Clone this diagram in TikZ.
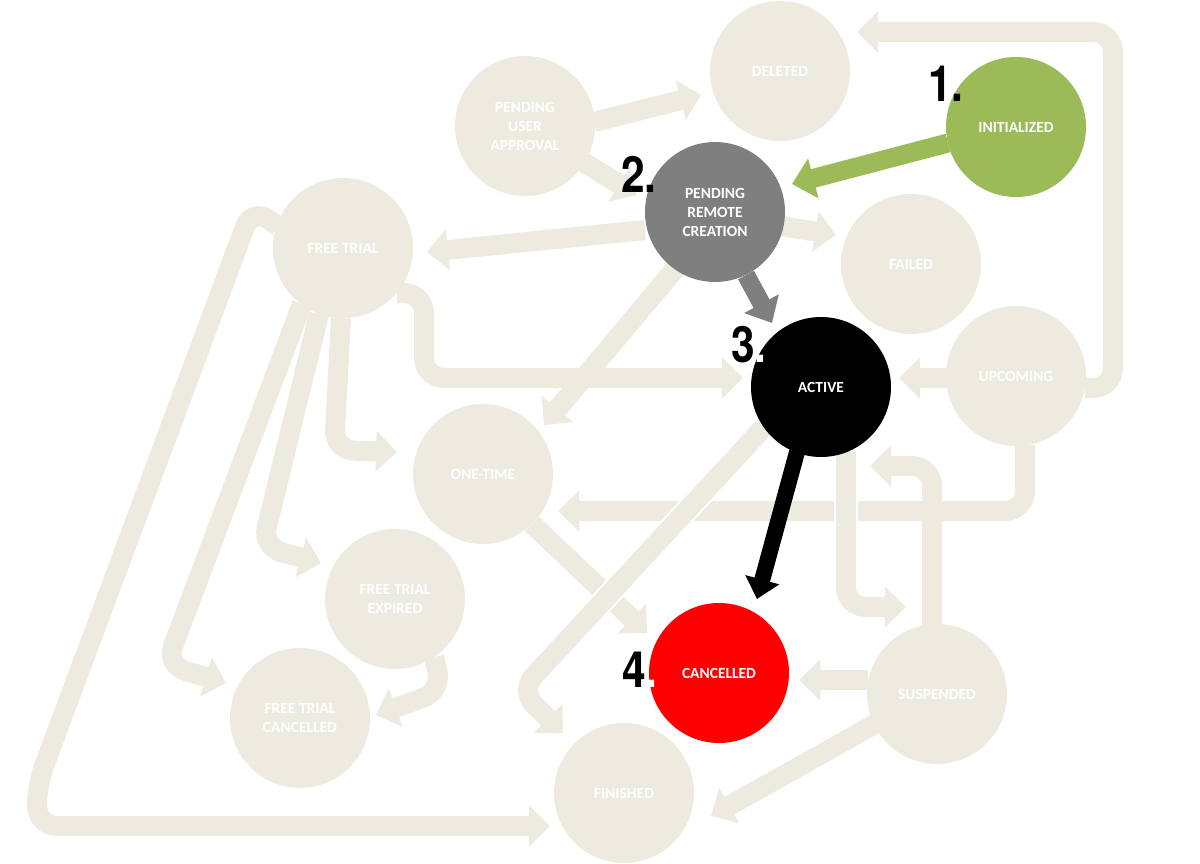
\documentclass[tikz,border=0pt]{standalone}
\usepackage{fontspec}
\usetikzlibrary{arrows.meta,calc}
\newfontfamily\labfont{Carlito}
\newfontfamily\numfont{TeX Gyre Heros}[FakeStretch=0.85]
\definecolor{beige}{RGB}{237,235,224}
\definecolor{initgreen}{RGB}{155,187,89}
\definecolor{pgray}{RGB}{127,127,127}
\pgfdeclarelayer{bg}
\pgfsetlayers{bg,main}
\tikzset{
  st/.style={circle, minimum size=140pt, inner sep=0pt, draw=none, fill=#1, text=white,
    font=\labfont\bfseries\fontsize{15.5}{19}\selectfont, align=center},
  st/.default=beige,
  conn/.style={draw=beige, line width=20pt, rounded corners=20pt,
    -{Triangle[width=40pt,length=21pt]}},
  cross/.style={preaction={draw=white, line width=24pt}},
  num/.style={font=\numfont\bfseries\fontsize{50}{50}\selectfont, inner sep=0pt, anchor=base west},
}
\begin{document}
\begin{tikzpicture}[x=1pt,y=-1pt]
\useasboundingbox (0,0) rectangle (1200,864);
% states
\node[st] (del) at (780,71) {DELETED};
\node[st] (pua) at (525,126) {PENDING\\USER\\APPROVAL};
\node[st=pgray] (prc) at (715,212) {PENDING\\REMOTE\\CREATION};
\node[st=initgreen] (init) at (1016,127) {INITIALIZED};
\node[st] (fail) at (911,264) {FAILED};
\node[st] (ft) at (343,248) {FREE TRIAL};
\node[st=black] (act) at (821,387) {ACTIVE};
\node[st] (up) at (1016,376) {UPCOMING};
\node[st] (ot) at (483,474) {ONE-TIME};
\node[st] (fte) at (395,599) {FREE TRIAL\\EXPIRED};
\node[st] (ftc) at (300,718) {FREE TRIAL\\CANCELLED};
\node[st=red] (can) at (719,673) {CANCELLED};
\node[st] (sus) at (937,694) {SUSPENDED};
\node[st] (fin) at (624,793) {FINISHED};
% step numbers
\node[num] (n1) at (928,102) {1.};
\node[num] (n2) at (621,193) {2.};
\node[num] (n3) at (731,362) {3\textcolor{white}{.}};
\node[num] (n4) at (622,687) {4\textcolor{white}{.}};
\begin{pgfonlayer}{bg}
\draw[conn] ($(pua)+(69,-4)$) -- ($(del)+(-79,24)$);
\draw[conn] ($(pua)+(58,36)$) -- ($(prc)+(-78,-17)$);
\draw[conn] ($(prc)+(-70,18)$) -- ($(ft)+(84,4)$);
\draw[conn] ($(prc)+(66,14)$) -- ($(fail)+(-75,-29)$);
\draw[conn] ($(prc)+(-39,56)$) -- ($(ot)+(61,-49)$);
\draw[conn] ($(ft)+(54,45)$) -- (424,293) -- (424,378) -- ($(act)+(-78,-9)$);
\draw[conn] ($(ft)+(-2,70)$) -- (334,450) -- ($(ot)+(-86,-22)$);
\draw[conn] ($(ft)+(-24,66)$) -- (262,547) -- ($(fte)+(-74,-36)$);
\draw[conn] ($(ft)+(-41,56)$) -- (166,665) -- ($(ftc)+(-74,-35)$);
\draw[conn] ($(ft)+(-65,-22)$) -- (252,208) -- (37,785) -- (37,826) -- ($(fin)+(-74,33)$);
\draw[conn] ($(up)+(69,12)$) -- (1113,388) -- (1113,32) -- ($(del)+(77,-39)$);
\draw[conn] ($(up)+(-66,2)$) -- ($(act)+(78,-9)$);
\draw[conn] ($(up)+(9,69)$) -- (1025,511) -- ($(ot)+(75,37)$);
\draw[conn] ($(sus)+(-5,-69)$) -- (932,466) -- ($(act)+(49,79)$);
\draw[conn] ($(sus)+(-69,-14)$) -- ($(can)+(80,7)$);
\draw[conn] ($(sus)+(-62,30)$) -- ($(fin)+(87,23)$);
\draw[conn] ($(ot)+(49,50)$) -- ($(can)+(-72,-40)$);
\draw[conn] ($(fte)+(39,58)$) -- (442,691) -- ($(ftc)+(76,-3)$);
\draw[conn,cross] ($(act)+(25,65)$) -- (846,607) -- ($(sus)+(-31,-87)$);
\draw[conn,cross] ($(act)+(-57,40)$) -- (520,691) -- ($(fin)+(-61,-60)$);
\draw[initgreen, line width=19pt, -{Triangle[width=40pt,length=22pt]}] ($(init)+(-68,16)$) -- ($(prc)+(77,-28)$);
\draw[pgray, line width=18pt, -{Triangle[width=38pt,length=22pt]}] ($(prc)+(31,63)$) -- ($(act)+(-49,-64)$);
\draw[black, line width=16pt, -{Triangle[width=34pt,length=20pt]}] ($(act)+(-24,65)$) -- ($(can)+(38,-74)$);
\end{pgfonlayer}
\end{tikzpicture}
\end{document}
